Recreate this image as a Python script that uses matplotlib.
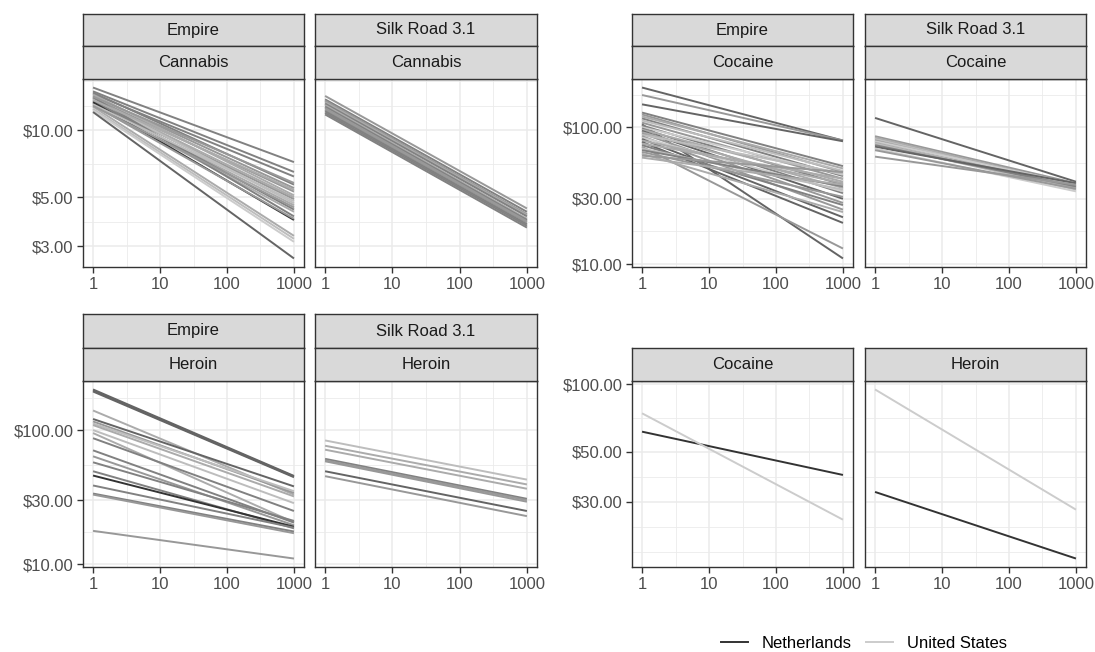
import numpy as np
import matplotlib.pyplot as plt
from matplotlib.ticker import FixedLocator, FuncFormatter
from matplotlib.lines import Line2D

plt.rcParams['font.family'] = ['Liberation Sans', 'DejaVu Sans']

W, H = 1095, 652

# quantity (units) at both ends of each fitted price curve
qty = [1, 1000]
x_breaks = [1, 10, 100, 1000]

# price per unit at 1 and at 1000 units, plus vendor origin group (0 = Netherlands ... 6 = United States)
emp_can_p1 = [15.6, 15.0, 14.6, 14.8, 14.3, 14.0, 14.5, 13.8, 13.5, 13.9, 13.3, 13.6,
              13.2, 14.1, 13.4, 13.0, 12.8, 12.5, 12.3, 12.1, 14.2, 13.7, 13.1, 12.9]
emp_can_p1000 = [7.2, 6.5, 6.2, 5.7, 5.5, 5.3, 5.1, 5.0, 4.9, 4.7, 4.6, 4.4,
                 4.3, 4.1, 3.95, 4.0, 3.35, 3.25, 3.15, 2.65, 5.8, 5.4, 4.8, 4.5]
emp_can_grp = [2, 2, 2, 2, 3, 3, 4, 4, 3, 5, 4, 2, 4, 2, 0, 3, 4, 5, 6, 1, 3, 4, 5, 3]

sr_can_p1 = [14.3, 13.8, 13.6, 13.4, 13.2, 13.0, 12.8, 12.6, 12.4, 12.2, 12.0, 11.8]
sr_can_p1000 = [4.45, 4.3, 4.2, 4.15, 4.1, 4.0, 3.95, 3.9, 3.85, 3.78, 3.72, 3.65]
sr_can_grp = [3, 2, 3, 4, 2, 4, 2, 3, 3, 2, 2, 2]

emp_coc_p1 = [195, 172, 147, 128, 124, 120, 116, 112, 108, 105, 103, 100, 98, 96, 94, 92,
              90, 88, 86, 84, 82, 80, 78, 76, 74, 72, 70, 68, 66, 64, 62, 60]
emp_coc_p1000 = [80, 80, 79, 52, 47, 50, 44, 48, 42, 11, 38, 45, 33, 40, 30, 36,
                 28, 46, 25, 34, 22, 39, 20, 42, 27, 13, 35, 37, 31, 24, 47, 38]
emp_coc_grp = [1, 3, 1, 2, 3, 4, 2, 5, 3, 1, 2, 6, 2, 4, 1, 4,
               3, 5, 3, 6, 1, 4, 1, 4, 2, 3, 5, 2, 3, 4, 3, 4]

sr_coc_p1 = [117, 86, 84, 82, 80, 79, 77, 76, 74, 72, 70, 68, 61]
sr_coc_p1000 = [40, 39, 38, 37, 36.5, 38.5, 36, 35, 37, 39, 34, 35.5, 38]
sr_coc_grp = [1, 3, 4, 5, 3, 6, 4, 5, 2, 1, 6, 3, 3]

emp_her_p1 = [201, 197, 194, 140, 121, 116, 112, 109, 100, 95, 87, 70.6,
              63.7, 57.5, 49.3, 45.8, 38.6, 33.6, 33.0, 17.7]
emp_her_p1000 = [45.5, 45, 44.5, 33, 38, 34, 35, 32, 28.5, 20.5, 24.9, 20.4,
                 19.5, 21, 18.5, 19, 18.7, 17.5, 17.0, 11.0]
emp_her_grp = [1, 1, 1, 4, 1, 3, 5, 4, 5, 4, 2, 2, 3, 2, 2, 0, 2, 2, 3, 3]

sr_her_p1 = [83.7, 76.4, 71.4, 61, 59.5, 58.5, 49.3, 45.3]
sr_her_p1000 = [42.7, 39.3, 36.5, 30.7, 30, 29.2, 24.9, 22.8]
sr_her_grp = [5, 4, 4, 2, 3, 3, 1, 3]

# country-level curves
countries = ['Netherlands', 'United States']
country_grp = [0, 6]
cty_coc_p1 = [61.5, 74.2]
cty_coc_p1000 = [39.5, 25.0]
cty_her_p1 = [33.2, 94.7]
cty_her_p1000 = [16.8, 27.7]

# y breaks per row of facets
can_breaks = [3, 5, 10]
coc_breaks = [10, 30, 100]
her_breaks = [10, 30, 100]
cty_breaks = [30, 50, 100]


def grey_pal(n, start=0.2, end=0.8):
    v = np.linspace(start ** 2.2, end ** 2.2, n) ** (1 / 2.2)
    return [(g, g, g) for g in v]


pal = grey_pal(7)

BORDER = '#333333'
GRID = '#EBEBEB'


def minor_breaks(breaks, lo, hi):
    # midpoints between major breaks (log space), extended one step past them
    b = [np.log10(v) for v in breaks if lo <= np.log10(v) <= hi]
    bd = b[1] - b[0]
    if lo < b[0]:
        b = [b[0] - bd] + b
    if hi > b[-1]:
        b = b + [b[-1] + bd]
    mids = [(a + c) / 2 for a, c in zip(b[:-1], b[1:])]
    out = sorted(set(mids + b))
    return [10 ** v for v in out if lo <= v <= hi]


def padded(values, frac=0.05):
    lv = np.log10(values)
    lo, hi = lv.min(), lv.max()
    d = (hi - lo) * frac
    return lo - d, hi + d


def box(x0, x1, y0, y1):
    return [x0 / W, 1 - y1 / H, (x1 - x0) / W, (y1 - y0) / H]


def strip(x0, x1, y0, y1, label):
    sax = fig.add_axes(box(x0, x1, y0, y1))
    sax.set_facecolor('#D9D9D9')
    sax.set_xticks([])
    sax.set_yticks([])
    for s in sax.spines.values():
        s.set_color(BORDER)
        s.set_linewidth(1.0)
    sax.text(0.5, 0.5, label, ha='center', va='center', fontsize=12,
             color='#1A1A1A', transform=sax.transAxes)


def panel(x0, x1, y0, y1, p1, p1000, grp, breaks, ylim, left):
    ax = fig.add_axes(box(x0, x1, y0, y1))
    for a, b, g in zip(p1, p1000, grp):
        ax.plot(qty, [a, b], color=pal[g], lw=1.4, solid_capstyle='butt')
    ax.set_xscale('log')
    ax.set_yscale('log')
    xlo, xhi = -0.15, 3.15
    ax.set_xlim(10 ** xlo, 10 ** xhi)
    ax.set_ylim(10 ** ylim[0], 10 ** ylim[1])
    ax.xaxis.set_major_locator(FixedLocator(x_breaks))
    ax.xaxis.set_minor_locator(FixedLocator(minor_breaks(x_breaks, xlo, xhi)))
    ax.xaxis.set_major_formatter(FuncFormatter(lambda v, p: f'{v:g}'))
    ax.yaxis.set_major_locator(FixedLocator(breaks))
    ax.yaxis.set_minor_locator(FixedLocator(minor_breaks(breaks, *ylim)))
    ax.yaxis.set_major_formatter(FuncFormatter(lambda v, p: f'${v:,.2f}'))
    ax.xaxis.set_minor_formatter(FuncFormatter(lambda v, p: ''))
    ax.yaxis.set_minor_formatter(FuncFormatter(lambda v, p: ''))
    ax.grid(which='major', color=GRID, lw=1.1)
    ax.grid(which='minor', color=GRID, lw=0.6)
    ax.set_axisbelow(True)
    ax.tick_params(which='major', length=4, width=1.0, color=BORDER,
                   labelsize=12, labelcolor='#4D4D4D', pad=3)
    ax.tick_params(which='minor', length=0)
    if not left:
        ax.tick_params(axis='y', which='both', length=0, labelleft=False)
    for s in ax.spines.values():
        s.set_color(BORDER)
        s.set_linewidth(1.0)
    return ax


fig = plt.figure(figsize=(W / 100, H / 100), dpi=100)

L1, L2, R1, R2 = (83, 304), (315, 537), (632, 853), (865, 1086)
TOP, BOT = (79, 267), (381, 567)

# cannabis
lim = padded(emp_can_p1 + emp_can_p1000 + sr_can_p1 + sr_can_p1000)
panel(*L1, *TOP, emp_can_p1, emp_can_p1000, emp_can_grp, can_breaks, lim, True)
panel(*L2, *TOP, sr_can_p1, sr_can_p1000, sr_can_grp, can_breaks, lim, False)
for xs, mk in [(L1, 'Empire'), (L2, 'Silk Road 3.1')]:
    strip(*xs, 14, 46, mk)
    strip(*xs, 46, 79, 'Cannabis')

# cocaine
lim = padded(emp_coc_p1 + emp_coc_p1000 + sr_coc_p1 + sr_coc_p1000)
panel(*R1, *TOP, emp_coc_p1, emp_coc_p1000, emp_coc_grp, coc_breaks, lim, True)
panel(*R2, *TOP, sr_coc_p1, sr_coc_p1000, sr_coc_grp, coc_breaks, lim, False)
for xs, mk in [(R1, 'Empire'), (R2, 'Silk Road 3.1')]:
    strip(*xs, 14, 46, mk)
    strip(*xs, 46, 79, 'Cocaine')

# heroin
lim = padded(emp_her_p1 + emp_her_p1000 + sr_her_p1 + sr_her_p1000)
panel(*L1, *BOT, emp_her_p1, emp_her_p1000, emp_her_grp, her_breaks, lim, True)
panel(*L2, *BOT, sr_her_p1, sr_her_p1000, sr_her_grp, her_breaks, lim, False)
for xs, mk in [(L1, 'Empire'), (L2, 'Silk Road 3.1')]:
    strip(*xs, 314, 348, mk)
    strip(*xs, 348, 381, 'Heroin')

# by country
lim = padded(cty_coc_p1 + cty_coc_p1000 + cty_her_p1 + cty_her_p1000)
panel(*R1, *BOT, cty_coc_p1, cty_coc_p1000, country_grp, cty_breaks, lim, True)
panel(*R2, *BOT, cty_her_p1, cty_her_p1000, country_grp, cty_breaks, lim, False)
strip(*R1, 348, 381, 'Cocaine')
strip(*R2, 348, 381, 'Heroin')

handles = [Line2D([], [], color=pal[g], lw=1.4) for g in country_grp]
fig.legend(handles, countries, loc='center left', ncol=2, frameon=False,
           bbox_to_anchor=(721 / W, 1 - 643 / H), borderpad=0, borderaxespad=0,
           fontsize=12, handlelength=1.62, handletextpad=0.84, columnspacing=0.84)

fig.savefig('out.png', dpi=100)
